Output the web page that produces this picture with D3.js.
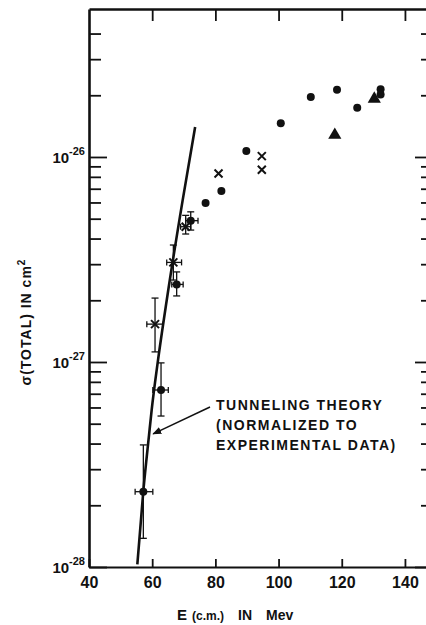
<!DOCTYPE html>
<html>
<head>
<meta charset="utf-8">
<script src="https://cdn.jsdelivr.net/npm/d3@7"></script>
<style>
body{margin:0;background:#fff;}
svg{display:block;}
text{font-family:"Liberation Sans",Arial,sans-serif;font-weight:bold;fill:#111;}
</style>
</head>
<body>
<svg></svg>
<script>
// solid circles: E (c.m.) in MeV, total cross section in cm^2
var circleE = [57.2, 62.8, 67.75, 72.2, 76.9, 81.9, 89.8, 100.7, 110.2, 118.5, 124.9, 132.3, 132.3];
var circleS = [2.33e-28, 7.3e-28, 2.39e-27, 4.89e-27, 5.97e-27, 6.83e-27, 1.07e-26, 1.46e-26, 1.96e-26, 2.13e-26, 1.74e-26, 2.14e-26, 2.02e-26];
// crosses
var crossE = [60.9, 66.7, 70.6, 81.0, 94.7, 94.7];
var crossS = [1.53e-27, 3.06e-27, 4.57e-27, 8.3e-27, 1.01e-26, 8.67e-27];
// triangles
var triE = [117.8, 130.3];
var triS = [1.28e-26, 1.92e-26];

// error bars (low energy points)
var errE   = [57.2, 62.8, 67.75, 72.2, 60.9, 66.7, 70.6];
var errS   = [2.33e-28, 7.3e-28, 2.39e-27, 4.89e-27, 1.53e-27, 3.06e-27, 4.57e-27];
var errELo = [54.6, 60.2, 66.2, 70.6, 58.3, 64.6, 69.0];
var errEHi = [60.2, 65.1, 69.8, 74.5, 63.5, 69.3, 72.2];
var errSLo = [1.38e-28, 5.45e-28, 2.1e-27, 4.4e-27, 1.12e-27, 2.51e-27, 4.21e-27];
var errSHi = [3.94e-28, 9.9e-28, 2.75e-27, 5.4e-27, 2.05e-27, 3.72e-27, 5.19e-27];

// tunneling theory curve
var theoryE = [55.3, 57.2, 59.0, 59.84, 61.74, 64.6, 69.65, 73.6];
var theoryS = [1.03e-28, 2.35e-28, 4.4e-28, 5.84e-28, 9.93e-28, 2.0e-27, 6.16e-27, 1.40e-26];

var xTicks = [40, 60, 80, 100, 120, 140];
var yMajor = [1e-28, 1e-27, 1e-26];
var yExp = ["-28", "-27", "-26"];

var size = {width:426, height:625};
var svg = d3.select("svg")
  .attr("width", size.width)
  .attr("height", size.height);

var xScale = d3.scaleLinear().domain([40, 147.3]).range([89, 428]);
var yScale = d3.scaleLog().domain([1e-28, 5.27e-26]).range([567, 9]);

// minor ticks 2..9 per decade
var minorY = [];
yMajor.forEach(function(d) {
  for (var k = 2; k <= 9; k++) { if (d * k < 4.5e-26) minorY.push(d * k); }
});

function styleAxis(g, w) {
  g.selectAll("path").attr("stroke", "#111").attr("stroke-width", w);
  g.selectAll("line").attr("stroke", "#111").attr("stroke-width", 1.8);
}

// left axis
var leftAx = svg.append("g").attr("transform", "translate(89,0)")
  .call(d3.axisLeft(yScale).tickValues(minorY).tickSize(-12).tickSizeOuter(0).tickFormat(""));
styleAxis(leftAx, 2.6);
var leftMaj = svg.append("g").attr("transform", "translate(89,0)")
  .call(d3.axisLeft(yScale).tickValues(yMajor).tickSize(-18).tickSizeOuter(0).tickFormat(""));
leftMaj.select(".domain").remove();
styleAxis(leftMaj, 2);

// right axis (mostly off the page)
var rightAx = svg.append("g").attr("transform", "translate(428,0)")
  .call(d3.axisRight(yScale).tickValues(minorY).tickSize(-7).tickSizeOuter(0).tickFormat(""));
styleAxis(rightAx, 2);
var rightMaj = svg.append("g").attr("transform", "translate(428,0)")
  .call(d3.axisRight(yScale).tickValues(yMajor).tickSize(-13).tickSizeOuter(0).tickFormat(""));
rightMaj.select(".domain").remove();
styleAxis(rightMaj, 2);

// top axis
var topAx = svg.append("g").attr("transform", "translate(0,9)")
  .call(d3.axisTop(xScale).tickValues(xTicks.slice(1)).tickSize(-12).tickSizeOuter(0).tickFormat(""));
styleAxis(topAx, 2.4);

// bottom axis
var bottomAx = svg.append("g").attr("transform", "translate(0,567)")
  .call(d3.axisBottom(xScale).tickValues(xTicks).tickSize(-8).tickSizeOuter(0).tickPadding(10));
styleAxis(bottomAx, 2.2);
bottomAx.selectAll("text")
  .style("font-size", "16px")
  .style("font-family", "'Liberation Sans',Arial,sans-serif")
  .attr("fill", "#111");

// y tick labels 10^n
var yLab = svg.append("g");
yMajor.forEach(function(v, i) {
  var t = yLab.append("text")
    .attr("x", 85)
    .attr("y", yScale(v) + 6)
    .attr("text-anchor", "end");
  t.append("tspan").style("font-size", "15px").text("10");
  t.append("tspan").style("font-size", "11px").attr("dy", -8).text(yExp[i]);
});

// axis titles
var yt = svg.append("text")
  .attr("transform", "translate(31,322) rotate(-90)")
  .attr("text-anchor", "middle")
  .style("font-size", "14px")
  .style("letter-spacing", "1px");
yt.append("tspan").text("σ(TOTAL) IN cm");
yt.append("tspan").attr("dy", -6).style("font-size", "10px").text("2");

var xt = svg.append("text").attr("y", 620);
xt.append("tspan").attr("x", 177).style("font-size", "15px").text("E");
xt.append("tspan").attr("x", 192).style("font-size", "12px").text("(c.m.)");
xt.append("tspan").attr("x", 238).style("font-size", "14px").text("IN");
xt.append("tspan").attr("x", 266).style("font-size", "14px").text("Mev");

// theory curve
var line = d3.line()
  .x(function(d) { return xScale(d[0]); })
  .y(function(d) { return yScale(d[1]); })
  .curve(d3.curveMonotoneX);
svg.append("path")
  .datum(theoryE.map(function(e, i) { return [e, theoryS[i]]; }))
  .attr("d", line)
  .attr("fill", "none")
  .attr("stroke", "#111")
  .attr("stroke-width", 2.6);

// error bars
var errs = svg.append("g").attr("stroke", "#111").attr("stroke-width", 1.3);
errE.forEach(function(e, i) {
  var cx = xScale(e), cy = yScale(errS[i]);
  var y1 = yScale(errSHi[i]), y2 = yScale(errSLo[i]);
  var x1 = xScale(errELo[i]), x2 = xScale(errEHi[i]);
  errs.append("line").attr("x1", cx).attr("x2", cx).attr("y1", y1).attr("y2", y2);
  errs.append("line").attr("x1", cx - 3.5).attr("x2", cx + 3.5).attr("y1", y1).attr("y2", y1);
  errs.append("line").attr("x1", cx - 3.5).attr("x2", cx + 3.5).attr("y1", y2).attr("y2", y2);
  errs.append("line").attr("x1", x1).attr("x2", x2).attr("y1", cy).attr("y2", cy);
  errs.append("line").attr("x1", x1).attr("x2", x1).attr("y1", cy - 3).attr("y2", cy + 3);
  errs.append("line").attr("x1", x2).attr("x2", x2).attr("y1", cy - 3).attr("y2", cy + 3);
});

// circles
svg.append("g").selectAll("circle")
  .data(circleE)
  .enter()
  .append("circle")
  .attr("cx", function(d) { return xScale(d); })
  .attr("cy", function(d, i) { return yScale(circleS[i]); })
  .attr("r", 4)
  .attr("fill", "#111");

// crosses
svg.append("g").selectAll("path")
  .data(crossE)
  .enter()
  .append("path")
  .attr("transform", function(d, i) { return "translate(" + xScale(d) + "," + yScale(crossS[i]) + ")"; })
  .attr("d", "M-4,-4L4,4M-4,4L4,-4")
  .attr("stroke", "#111")
  .attr("stroke-width", 2);

// triangles
svg.append("g").selectAll("path")
  .data(triE)
  .enter()
  .append("path")
  .attr("transform", function(d, i) { return "translate(" + xScale(d) + "," + yScale(triS[i]) + ")"; })
  .attr("d", d3.symbol().type(d3.symbolTriangle).size(75))
  .attr("fill", "#111");

// annotation with arrow
svg.append("defs").append("marker")
  .attr("id", "arr")
  .attr("viewBox", "0 0 10 10")
  .attr("refX", 9).attr("refY", 5)
  .attr("markerWidth", 9).attr("markerHeight", 9)
  .attr("markerUnits", "userSpaceOnUse")
  .attr("orient", "auto")
  .append("path")
  .attr("d", "M0,1L10,5L0,9Z")
  .attr("fill", "#111");

svg.append("line")
  .attr("x1", xScale(78.3)).attr("y1", yScale(6.03e-28))
  .attr("x2", xScale(60.3)).attr("y2", yScale(4.46e-28))
  .attr("stroke", "#111")
  .attr("stroke-width", 1.5)
  .attr("marker-end", "url(#arr)");

var note = svg.append("g").style("font-size", "14px").style("letter-spacing", "1.5px");
note.append("text").attr("x", 216).attr("y", 410).text("TUNNELING THEORY");
note.append("text").attr("x", 216).attr("y", 430).text("(NORMALIZED TO");
note.append("text").attr("x", 216).attr("y", 450).text("EXPERIMENTAL DATA)");
</script>
</body>
</html>
